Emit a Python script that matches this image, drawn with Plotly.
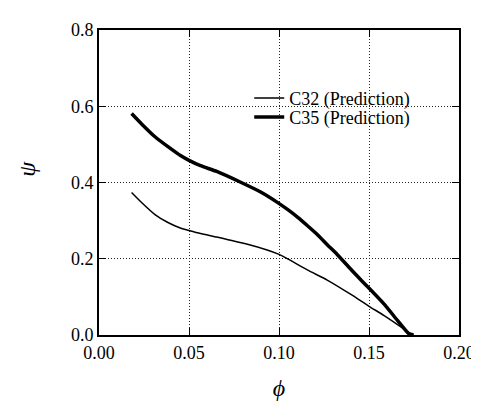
import plotly.graph_objects as go

# Data
c32_phi = [0.0181, 0.0238, 0.0311, 0.0383, 0.0455, 0.0500, 0.0564, 0.0654, 0.0717, 0.0825,
           0.0934, 0.0997, 0.1051, 0.1160, 0.1268, 0.1404, 0.1498, 0.1584, 0.1675, 0.1729, 0.1747]
c32_psi = [0.374, 0.347, 0.316, 0.295, 0.280, 0.274, 0.266, 0.257, 0.250, 0.238,
           0.223, 0.212, 0.199, 0.170, 0.144, 0.105, 0.076, 0.051, 0.022, 0.004, 0.0]

c35_phi = [0.0181, 0.0238, 0.0311, 0.0383, 0.0455, 0.0500, 0.0564, 0.0654, 0.0790, 0.0898,
           0.0997, 0.1051, 0.1106, 0.1160, 0.1214, 0.1268, 0.1322, 0.1404, 0.1458, 0.1498,
           0.1584, 0.1657, 0.1720, 0.1747]
c35_psi = [0.581, 0.553, 0.520, 0.494, 0.470, 0.458, 0.444, 0.429, 0.400, 0.375,
           0.346, 0.328, 0.308, 0.286, 0.263, 0.237, 0.212, 0.170, 0.143, 0.124,
           0.081, 0.039, 0.004, 0.0]

series_names = ["C32 (Prediction)", "C35 (Prediction)"]
x_ticks = [0.00, 0.05, 0.10, 0.15, 0.20]
y_ticks = [0.0, 0.2, 0.4, 0.6, 0.8]
x_title = "<i>ϕ</i>"
y_title = "<i>ψ</i>"

FONT = "Liberation Serif, Times New Roman, serif"

fig = go.Figure()
fig.add_trace(go.Scatter(x=c32_phi, y=c32_psi, mode="lines", name=series_names[0],
                         line=dict(color="black", width=1.5, shape="spline", smoothing=0.5),
                         legend="legend"))
fig.add_trace(go.Scatter(x=c35_phi, y=c35_psi, mode="lines", name=series_names[1],
                         line=dict(color="black", width=3.5, shape="spline", smoothing=0.5),
                         legend="legend2"))

axis_common = dict(
    showline=True, linecolor="black", linewidth=2, mirror="ticks",
    ticks="inside", ticklen=7, tickwidth=1, tickcolor="black",
    showgrid=True, gridcolor="#222", griddash="1px,2px", gridwidth=1,
    zeroline=False, tickfont=dict(family=FONT, size=18, color="black"),
)

# white box behind the legend hiding the grid (as in the reference)
fig.add_shape(type="rect", xref="paper", yref="paper",
              x0=0.404, x1=0.897, y0=0.609, y1=0.792,
              fillcolor="white", line=dict(width=0), layer="between")

# y-axis title placed as a rotated annotation
fig.add_annotation(text=y_title, xref="paper", yref="paper", x=-0.2, y=0.545,
                   xanchor="center", yanchor="middle", textangle=-90, showarrow=False,
                   font=dict(family=FONT, size=24, color="black"))

fig.update_layout(
    width=479, height=401,
    margin=dict(l=91, r=19, t=14, b=65),
    plot_bgcolor="white", paper_bgcolor="white",
    font=dict(family=FONT, size=18, color="black"),
    xaxis=dict(range=[0, 0.2], tickvals=x_ticks, tickformat=".2f",
               title=dict(text=x_title, font=dict(family=FONT, size=24), standoff=18),
               **axis_common),
    yaxis=dict(range=[0, 0.8], tickvals=y_ticks, tickformat=".1f", **axis_common),
    legend=dict(x=0.4173, y=0.776, xanchor="left", yanchor="middle",
                bgcolor="rgba(0,0,0,0)", borderwidth=0, font=dict(family=FONT, size=18)),
    legend2=dict(x=0.4173, y=0.714, xanchor="left", yanchor="middle",
                 bgcolor="rgba(0,0,0,0)", borderwidth=0, font=dict(family=FONT, size=18)),
    showlegend=True,
)

fig.write_html("out.html")
